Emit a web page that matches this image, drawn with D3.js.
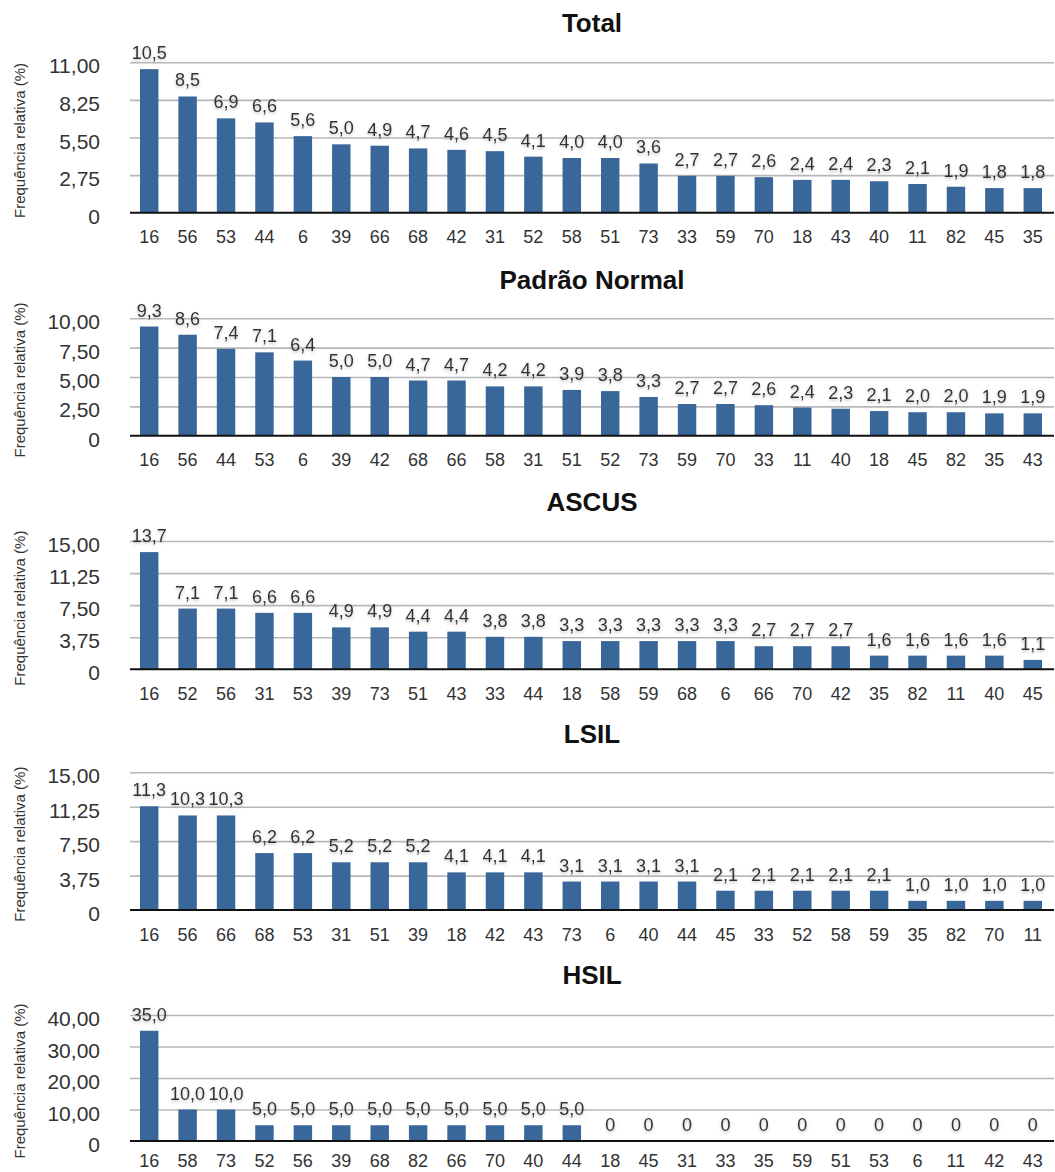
<!DOCTYPE html>
<html>
<head>
<meta charset="utf-8">
<script src="https://cdn.jsdelivr.net/npm/d3@7"></script>
<style>
  html, body { margin: 0; padding: 0; background: #fff; }
  svg text { font-family: "Liberation Sans", Arial, Helvetica, sans-serif; }
</style>
</head>
<body>
<svg id="chart" width="1055" height="1172"></svg>
<script>
// ---- Data ----
const titles = ["Total", "Padrão Normal", "ASCUS", "LSIL", "HSIL"];

const totalCats = ["16","56","53","44","6","39","66","68","42","31","52","58","51","73","33","59","70","18","43","40","11","82","45","35"];
const totalVals = [10.5,8.5,6.9,6.6,5.6,5.0,4.9,4.7,4.6,4.5,4.1,4.0,4.0,3.6,2.7,2.7,2.6,2.4,2.4,2.3,2.1,1.9,1.8,1.8];

const normalCats = ["16","56","44","53","6","39","42","68","66","58","31","51","52","73","59","70","33","11","40","18","45","82","35","43"];
const normalVals = [9.3,8.6,7.4,7.1,6.4,5.0,5.0,4.7,4.7,4.2,4.2,3.9,3.8,3.3,2.7,2.7,2.6,2.4,2.3,2.1,2.0,2.0,1.9,1.9];

const ascusCats = ["16","52","56","31","53","39","73","51","43","33","44","18","58","59","68","6","66","70","42","35","82","11","40","45"];
const ascusVals = [13.7,7.1,7.1,6.6,6.6,4.9,4.9,4.4,4.4,3.8,3.8,3.3,3.3,3.3,3.3,3.3,2.7,2.7,2.7,1.6,1.6,1.6,1.6,1.1];

const lsilCats = ["16","56","66","68","53","31","51","39","18","42","43","73","6","40","44","45","33","52","58","59","35","82","70","11"];
const lsilVals = [11.3,10.3,10.3,6.2,6.2,5.2,5.2,5.2,4.1,4.1,4.1,3.1,3.1,3.1,3.1,2.1,2.1,2.1,2.1,2.1,1.0,1.0,1.0,1.0];

const hsilCats = ["16","58","73","52","56","39","68","82","66","70","40","44","18","45","31","33","35","59","51","53","6","11","42","43"];
const hsilVals = [35.0,10.0,10.0,5.0,5.0,5.0,5.0,5.0,5.0,5.0,5.0,5.0,0,0,0,0,0,0,0,0,0,0,0,0];

const totalTicks = [0, 2.75, 5.5, 8.25, 11];
const normalTicks = [0, 2.5, 5, 7.5, 10];
const ascusTicks = [0, 3.75, 7.5, 11.25, 15];
const lsilTicks = [0, 3.75, 7.5, 11.25, 15];
const hsilTicks = [0, 10, 20, 30, 40];

const yTitle = "Frequência relativa (%)";

// ---- Layout ----
const panels = [
  { title: titles[0], cats: totalCats,  vals: totalVals,  ticks: totalTicks,  titleY: 23,  top: 62.3,  bottom: 212.7, labOff: 30.5 },
  { title: titles[1], cats: normalCats, vals: normalVals, ticks: normalTicks, titleY: 280, top: 318.3, bottom: 435.7, labOff: 30.5 },
  { title: titles[2], cats: ascusCats,  vals: ascusVals,  ticks: ascusTicks,  titleY: 502, top: 541,   bottom: 669.3, labOff: 30.5 },
  { title: titles[3], cats: lsilCats,   vals: lsilVals,   ticks: lsilTicks,   titleY: 734, top: 772.3, bottom: 910,   labOff: 30.5 },
  { title: titles[4], cats: hsilCats,   vals: hsilVals,   ticks: hsilTicks,   titleY: 975, top: 1015,  bottom: 1141,  labOff: 25.5 }
];

const plotLeft = 130, plotRight = 1054;
const barColor = "#3a6799";

const svg = d3.select("#chart");

const defs = svg.append("defs");
const f = defs.append("filter").attr("id", "shadow").attr("x", "-20%").attr("y", "-40%").attr("width", "140%").attr("height", "180%");
f.append("feDropShadow").attr("dx", 0).attr("dy", 1.5).attr("stdDeviation", 1.6)
  .attr("flood-color", "#888").attr("flood-opacity", 0.55);

const fmtTick = v => v === 0 ? "0" : d3.format(".2f")(v).replace(".", ",");
const fmtVal = v => v === 0 ? "0" : d3.format(".1f")(v).replace(".", ",");

panels.forEach(p => {
  const g = svg.append("g");
  const x = d3.scaleBand().domain(p.cats).range([plotLeft, 1052])
    .paddingInner(0.52).paddingOuter(0.26);
  const yMax = p.ticks[p.ticks.length - 1];
  const y = d3.scaleLinear().domain([0, yMax]).range([p.bottom, p.top]);

  // title
  g.append("text").attr("x", 592).attr("y", p.titleY).attr("dy", "0.35em")
    .attr("text-anchor", "middle").attr("font-size", 26).attr("font-weight", "bold")
    .attr("fill", "#111").text(p.title);

  // grid lines + y tick labels
  const yAxis = d3.axisLeft(y).tickValues(p.ticks).tickSize(-(plotRight - plotLeft)).tickFormat(fmtTick).tickPadding(30);
  const ax = g.append("g").attr("transform", `translate(${plotLeft},0)`).call(yAxis);
  ax.select(".domain").remove();
  ax.selectAll(".tick line").attr("stroke", "#b8b8b8").attr("stroke-width", 1.6)
    .filter(d => d === 0).remove();
  ax.selectAll(".tick text").attr("font-size", 21).attr("fill", "#333")
    .attr("x", 100 - plotLeft).attr("dy", "0.5em");

  // bars
  g.selectAll("rect.bar").data(p.vals).enter().append("rect")
    .attr("class", "bar")
    .attr("x", (d, i) => x(p.cats[i]))
    .attr("width", x.bandwidth())
    .attr("y", d => y(d))
    .attr("height", d => p.bottom - y(d))
    .attr("fill", barColor);

  // baseline
  g.append("line").attr("x1", plotLeft).attr("x2", plotRight)
    .attr("y1", p.bottom).attr("y2", p.bottom)
    .attr("stroke", "#111").attr("stroke-width", 2);

  // x axis labels
  const xAxis = d3.axisBottom(x).tickSize(0).tickPadding(0);
  const xa = g.append("g").attr("transform", `translate(0,${p.bottom})`).call(xAxis);
  xa.select(".domain").remove();
  xa.selectAll(".tick text").attr("font-size", 18).attr("fill", "#333")
    .attr("y", p.labOff).attr("dy", 0);

  // value labels
  g.selectAll("text.val").data(p.vals).enter().append("text")
    .attr("class", "val")
    .attr("x", (d, i) => x(p.cats[i]) + x.bandwidth() / 2)
    .attr("y", d => y(d) - 10)
    .attr("text-anchor", "middle")
    .attr("font-size", 18)
    .attr("fill", "#333")
    .attr("filter", "url(#shadow)")
    .text(fmtVal);

  // y title
  const cy = (p.top + p.bottom) / 2 + 3;
  g.append("text")
    .attr("transform", `translate(25,${cy}) rotate(-90)`)
    .attr("text-anchor", "middle")
    .attr("font-size", 15)
    .attr("fill", "#333")
    .text(yTitle);
});
</script>
</body>
</html>
